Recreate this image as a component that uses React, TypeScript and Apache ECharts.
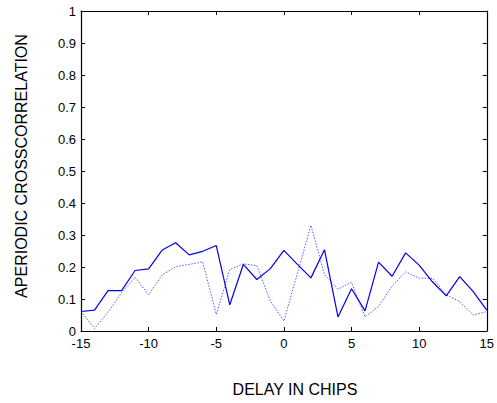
import React, { useEffect, useRef } from "react";
import * as echarts from "echarts";

const delays = [-15, -14, -13, -12, -11, -10, -9, -8, -7, -6, -5, -4, -3, -2, -1, 0, 1, 2, 3, 4, 5, 6, 7, 8, 9, 10, 11, 12, 13, 14, 15];
const solidValues = [0.061, 0.065, 0.126, 0.126, 0.189, 0.194, 0.253, 0.276, 0.238, 0.249, 0.267, 0.082, 0.208, 0.161, 0.195, 0.252, 0.208, 0.166, 0.254, 0.044, 0.132, 0.063, 0.215, 0.171, 0.244, 0.206, 0.153, 0.11, 0.17, 0.123, 0.065];
const dottedValues = [0.061, 0.008, 0.059, 0.119, 0.168, 0.113, 0.175, 0.201, 0.208, 0.216, 0.052, 0.192, 0.21, 0.204, 0.094, 0.031, 0.18, 0.33, 0.177, 0.131, 0.152, 0.044, 0.077, 0.14, 0.185, 0.165, 0.165, 0.113, 0.092, 0.05, 0.061];
const xTitle = "DELAY IN CHIPS";
const yTitle = "APERIODIC CROSSCORRELATION";

const FONT = "'Liberation Sans', Arial, sans-serif";

export default function App() {
  const ref = useRef<HTMLDivElement>(null);
  useEffect(() => {
    if (!ref.current) return;
    const chart = echarts.init(ref.current, undefined, { renderer: "svg" });
    const axisLine = { show: true, onZero: false, lineStyle: { color: "#000", width: 1.2 } };
    const axisTick = { show: true, inside: true, length: 4, lineStyle: { color: "#000" } };
    const yFmt = (v: number) => (v === 0 ? "0" : v === 1 ? "1" : v.toFixed(1));
    chart.setOption({
      animation: false,
      backgroundColor: "#fff",
      grid: { left: 81, right: 7, top: 11, bottom: 72, containLabel: false },
      xAxis: [
        {
          type: "value", min: -15, max: 15, interval: 5, position: "bottom",
          axisLine, axisTick, splitLine: { show: false },
          axisLabel: { color: "#000", fontFamily: FONT, fontSize: 13, lineHeight: 11, margin: 7 },
        },
        {
          type: "value", min: -15, max: 15, interval: 5, position: "top",
          axisLine, axisTick, splitLine: { show: false }, axisLabel: { show: false },
        },
      ],
      yAxis: [
        {
          type: "value", min: 0, max: 1, interval: 0.1, position: "left",
          axisLine, axisTick, splitLine: { show: false },
          axisLabel: { color: "#000", fontFamily: FONT, fontSize: 13, lineHeight: 11, margin: 5, formatter: yFmt },
        },
        {
          type: "value", min: 0, max: 1, interval: 0.1, position: "right",
          axisLine, axisTick, splitLine: { show: false }, axisLabel: { show: false },
        },
      ],
      series: [
        {
          type: "line", xAxisIndex: 0, yAxisIndex: 0, showSymbol: false, symbol: "none",
          data: delays.map((d, i) => [d, dottedValues[i]]),
          lineStyle: { color: "#5a5aff", width: 1, type: [1.5, 1.5] },
        },
        {
          type: "line", xAxisIndex: 0, yAxisIndex: 0, showSymbol: false, symbol: "none",
          data: delays.map((d, i) => [d, solidValues[i]]),
          lineStyle: { color: "#0000ee", width: 1.2 },
        },
      ],
      graphic: [
        {
          type: "text", x: 295, y: 389,
          style: { text: xTitle, fill: "#000", font: `16px ${FONT}`, align: "center", verticalAlign: "middle" },
        },
        {
          type: "text", x: 21, y: 166, rotation: Math.PI / 2,
          style: { text: yTitle, fill: "#000", font: `16px ${FONT}`, align: "center", verticalAlign: "middle" },
        },
      ],
    });
    return () => chart.dispose();
  }, []);
  return (
    <div
      ref={ref}
      style={{ position: "fixed", left: 0, top: 0, width: 497, height: 403, background: "#fff" }}
    />
  );
}
